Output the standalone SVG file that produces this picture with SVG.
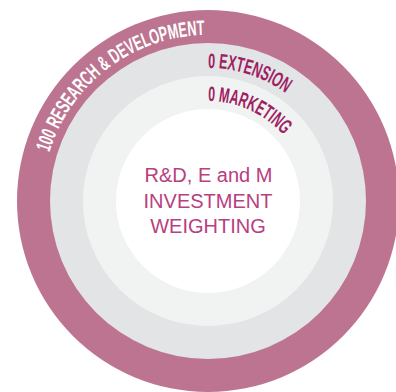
<svg xmlns="http://www.w3.org/2000/svg" width="396" height="392" viewBox="0 0 396 392">
<style>
.arc{font-family:"Liberation Sans",Arial,sans-serif;font-size:21px;font-weight:bold}
.ring-label{fill:#ffffff}
.inner-label{fill:#9e1f63}
.center{font-family:"Liberation Sans",Arial,sans-serif;font-size:20px;fill:#b8407f;text-anchor:middle}
</style>
<defs>
<path id="p-rd" d="M49.3,152.5 A166,166 0 0 1 205.1,35.0"/>
<path id="p-ext" d="M208,68 A133,133 0 0 1 286.2,93.4"/>
<path id="p-mkt" d="M208,101 A100,100 0 0 1 283.5,135.4"/>
</defs>
<rect width="396" height="392" fill="#ffffff"/>
<g id="ring-rd">
<circle cx="208" cy="201" r="191" fill="#bd7490"/>
<text class="arc ring-label"><textPath href="#p-rd" textLength="208" lengthAdjust="spacingAndGlyphs">100 RESEARCH &amp; DEVELOPMENT</textPath></text>
</g>
<g id="ring-extension">
<circle cx="208" cy="201" r="158" fill="#e3e4e6"/>
<text class="arc inner-label"><textPath href="#p-ext" textLength="83" lengthAdjust="spacingAndGlyphs">0 EXTENSION</textPath></text>
</g>
<g id="ring-marketing">
<circle cx="208" cy="201" r="125" fill="#f1f2f2"/>
<text class="arc inner-label"><textPath href="#p-mkt" textLength="85" lengthAdjust="spacingAndGlyphs">0 MARKETING</textPath></text>
</g>
<g id="core">
<circle cx="208" cy="201" r="92" fill="#ffffff"/>
<text class="center" x="208.5" y="182">R&amp;D, E and M</text>
<text class="center" x="208" y="208">INVESTMENT</text>
<text class="center" x="208" y="233">WEIGHTING</text>
</g>
<g id="connectors"/>
</svg>
